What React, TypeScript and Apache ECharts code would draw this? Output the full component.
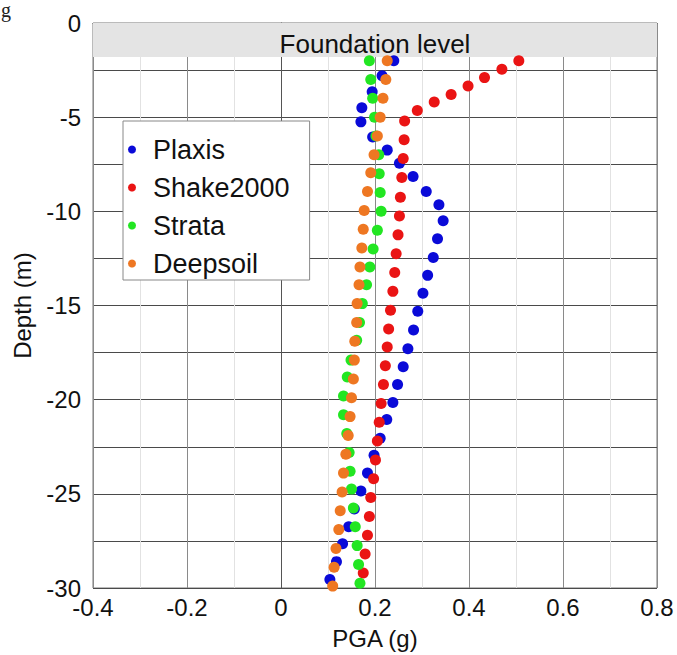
import React, { useEffect, useRef } from "react";
import * as echarts from "echarts";

const seriesNames = ["Plaxis", "Shake2000", "Strata", "Deepsoil"];
const seriesColors = ["#0a0ad8", "#ea1414", "#22e622", "#ee7722"];

const plaxisDepth = [-2.0, -2.8, -3.65, -4.5, -5.25, -6.05, -6.75, -7.45, -8.15, -8.95, -9.65, -10.5, -11.45, -12.45, -13.4, -14.35, -15.3, -16.3, -17.3, -18.25, -19.2, -20.15, -21.05, -22.05, -22.95, -23.9, -24.85, -25.8, -26.75, -27.65, -28.6, -29.55];
const plaxisPGA = [0.240, 0.215, 0.194, 0.172, 0.170, 0.195, 0.226, 0.252, 0.281, 0.309, 0.336, 0.345, 0.333, 0.324, 0.312, 0.302, 0.291, 0.282, 0.270, 0.260, 0.248, 0.238, 0.225, 0.211, 0.198, 0.184, 0.170, 0.156, 0.144, 0.131, 0.118, 0.104];

const shakeDepth = [-2.0, -2.45, -2.9, -3.35, -3.8, -4.2, -4.65, -5.2, -6.2, -7.2, -8.2, -9.25, -10.25, -11.25, -12.25, -13.25, -14.25, -15.25, -16.25, -17.2, -18.2, -19.2, -20.2, -21.2, -22.2, -23.2, -24.2, -25.2, -26.2, -27.2, -28.2, -29.2];
const shakePGA = [0.506, 0.470, 0.433, 0.398, 0.362, 0.326, 0.290, 0.263, 0.262, 0.260, 0.257, 0.254, 0.252, 0.249, 0.245, 0.242, 0.238, 0.233, 0.229, 0.226, 0.222, 0.218, 0.213, 0.209, 0.205, 0.201, 0.197, 0.191, 0.188, 0.184, 0.179, 0.175];

const strataDepth = [-2.0, -3.0, -4.0, -5.0, -6.0, -7.0, -8.0, -9.0, -10.0, -11.0, -12.0, -12.95, -13.9, -14.9, -15.9, -16.85, -17.9, -18.8, -19.8, -20.8, -21.8, -22.8, -23.8, -24.75, -25.75, -26.75, -27.75, -28.75, -29.75];
const strataPGA = [0.188, 0.191, 0.195, 0.199, 0.202, 0.208, 0.209, 0.211, 0.213, 0.205, 0.196, 0.189, 0.182, 0.173, 0.167, 0.161, 0.149, 0.141, 0.133, 0.133, 0.140, 0.145, 0.147, 0.150, 0.154, 0.158, 0.162, 0.165, 0.168];

const deepDepth = [-2.0, -3.0, -4.0, -5.0, -6.0, -7.0, -7.95, -8.95, -9.95, -10.95, -11.95, -12.95, -13.9, -14.9, -15.9, -16.9, -17.9, -18.9, -19.9, -20.9, -21.9, -22.9, -23.9, -24.9, -25.9, -26.9, -27.9, -28.9, -29.9];
const deepPGA = [0.226, 0.223, 0.217, 0.211, 0.205, 0.198, 0.191, 0.184, 0.177, 0.175, 0.172, 0.168, 0.166, 0.162, 0.161, 0.157, 0.156, 0.154, 0.150, 0.147, 0.143, 0.138, 0.133, 0.130, 0.126, 0.123, 0.117, 0.113, 0.110];

const foundationTop = 0;
const foundationBottom = -1.8;
const foundationLabel = "Foundation level";

const FONT = "'Liberation Sans', Arial, Helvetica, sans-serif";

const pairs = (xs: number[], ys: number[]) => xs.map((x, i) => [x, ys[i]]);

export default function App() {
  const ref = useRef<HTMLDivElement>(null);
  useEffect(() => {
    if (!ref.current) return;
    const chart = echarts.init(ref.current, null, { renderer: "svg" });
    const dataSets = [
      pairs(plaxisPGA, plaxisDepth),
      pairs(shakePGA, shakeDepth),
      pairs(strataPGA, strataDepth),
      pairs(deepPGA, deepDepth),
    ];
    chart.setOption({
      animation: false,
      backgroundColor: "#ffffff",
      textStyle: { fontFamily: FONT },
      grid: {
        left: 93,
        right: 20,
        top: 23,
        bottom: 67,
        show: true,
        borderColor: "#777",
        borderWidth: 1,
      },
      graphic: [
        {
          type: "text",
          left: 1,
          top: 0,
          style: { text: "g", font: "20px 'Liberation Serif', serif", fill: "#222" },
        },
      ],
      legend: {
        left: 123,
        top: 121,
        orient: "vertical",
        icon: "circle",
        itemWidth: 8,
        itemHeight: 8,
        itemGap: 11,
        padding: [15, 20, 3, 5],
        backgroundColor: "#fff",
        borderColor: "#888",
        borderWidth: 1,
        borderRadius: 0,
        textStyle: { fontSize: 27, color: "#111", fontFamily: FONT, padding: [0, 0, 0, 12] },
        data: seriesNames,
      },
      xAxis: {
        type: "value",
        min: -0.4,
        max: 0.8,
        interval: 0.2,
        name: "PGA (g)",
        nameLocation: "middle",
        nameGap: 38,
        nameTextStyle: { fontSize: 24, color: "#111", fontFamily: FONT },
        axisLine: { show: true, lineStyle: { color: "#555", width: 1 } },
        axisTick: { show: false },
        axisLabel: { fontSize: 24, color: "#111", margin: 7, fontFamily: FONT },
        splitLine: { show: true, lineStyle: { color: "#8a8a8a", width: 1 } },
        minorTick: { show: false, splitNumber: 2 },
        minorSplitLine: { show: true, lineStyle: { color: "#e2e2e2", width: 1 } },
      },
      yAxis: {
        type: "value",
        min: -30,
        max: 0,
        interval: 5,
        name: "Depth (m)",
        nameLocation: "middle",
        nameGap: 59,
        nameRotate: 90,
        nameTextStyle: { fontSize: 24, color: "#111", fontFamily: FONT },
        axisLine: { show: true, lineStyle: { color: "#555", width: 1 } },
        axisTick: { show: false },
        axisLabel: { fontSize: 24, color: "#111", margin: 12, fontFamily: FONT },
        splitLine: { show: true, lineStyle: { color: "#4a4a4a", width: 1.2 } },
        minorTick: { show: false, splitNumber: 2 },
        minorSplitLine: { show: true, lineStyle: { color: "#4a4a4a", width: 1.2 } },
      },
      series: [
        {
          type: "scatter",
          name: "__band",
          data: [],
          z: 1,
          silent: true,
          markArea: {
            silent: true,
            itemStyle: { color: "#e4e4e4", borderWidth: 0 },
            label: {
              show: true,
              position: "inside",
              fontSize: 26,
              color: "#111",
              fontFamily: FONT,
              offset: [0, 4],
            },
            data: [
              [
                { name: foundationLabel, xAxis: -0.4, yAxis: foundationTop },
                { xAxis: 0.8, yAxis: foundationBottom },
              ],
            ],
          },
        },
        ...seriesNames.map((name, i) => ({
          type: "scatter",
          name,
          data: dataSets[i],
          symbol: "circle",
          symbolSize: 11,
          z: 2 + i,
          itemStyle: { color: seriesColors[i], opacity: 1 },
        })),
      ],
    });
    return () => chart.dispose();
  }, []);
  return <div ref={ref} style={{ width: 677, height: 655, position: "absolute", left: 0, top: 0 }} />;
}
